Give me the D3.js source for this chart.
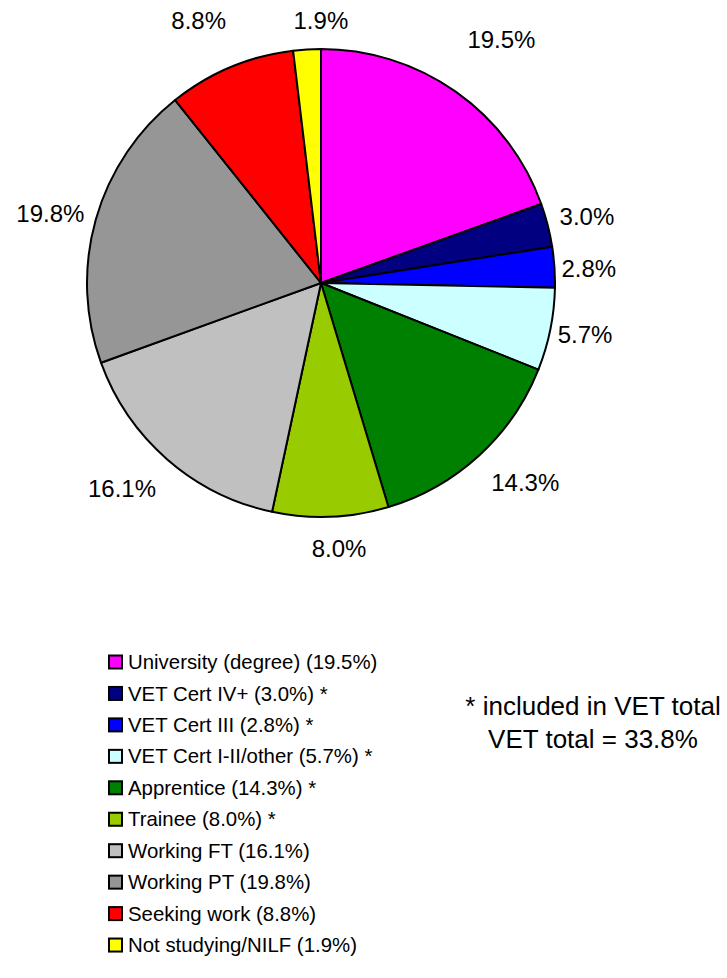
<!DOCTYPE html>
<html><head><meta charset="utf-8">
<script src="https://cdn.jsdelivr.net/npm/d3@7"></script>
<style>
body{margin:0;background:#fff}
svg text{font-family:Arial,"Liberation Sans",sans-serif;fill:#000}
</style></head>
<body><svg id="chart" width="727" height="978"></svg>
<script>
// ---- data ----
const categories = ["University (degree)","VET Cert IV+","VET Cert III","VET Cert I-II/other","Apprentice","Trainee","Working FT","Working PT","Seeking work","Not studying/NILF"];
const values = [19.5, 3.0, 2.8, 5.7, 14.3, 8.0, 16.1, 19.8, 8.8, 1.9];
const inVET = [false, true, true, true, true, true, false, false, false, false];
const colors = ["#FF00FF","#000080","#0000FF","#CCFFFF","#008000","#99CC00","#C0C0C0","#969696","#FF0000","#FFFF00"];
const noteLines = ["* included in VET total", "VET total = "];

// ---- layout ----
const labelNudge = [[21,-33],[4,-3],[-2,3],[-1,1],[17,10],[7,8],[-17,12],[-4,1],[-18,-25],[16,-5]];
const cx = 321, cy = 283, R = 234;

const svg = d3.select("#chart");
const data = categories.map((c,i)=>({cat:c, value:values[i], vet:inVET[i], color:colors[i], i}));
const pie = d3.pie().value(d=>d.value).sort(null);
const arcs = pie(data);
const arc = d3.arc().innerRadius(0).outerRadius(R);

const g = svg.append("g").attr("transform",`translate(${cx},${cy})`);
g.selectAll("path").data(arcs).join("path")
  .attr("d", arc)
  .attr("fill", d=>d.data.color)
  .attr("stroke","#000").attr("stroke-width",2).attr("stroke-linejoin","round");

// labels
const fs = 24, boxH = 29, gap = 9;
arcs.forEach(a=>{
  const th = (a.startAngle + a.endAngle)/2;
  const s = Math.sin(th), c = Math.cos(th);
  const t = g.append("text").attr("font-size",fs).attr("text-anchor","middle")
    .attr("dy","0.35em").text(a.data.value.toFixed(1)+"%");
  const w = t.node().getComputedTextLength();
  const x = (R+gap)*s + s*w/2 + labelNudge[a.data.i][0];
  const y = -(R+gap)*c - c*boxH/2 + labelNudge[a.data.i][1];
  t.attr("x",x).attr("y",y);
});

// legend
const lx = 109, ly0 = 662, lstep = 31.45, sq = 13;
const yL = d3.scaleLinear().domain([0,1]).range([ly0, ly0+lstep]);
const leg = svg.append("g");
data.forEach((d,i)=>{
  const y = yL(i);
  leg.append("rect").attr("x",lx).attr("y",y-sq/2).attr("width",sq).attr("height",sq)
    .attr("fill",d.color).attr("stroke","#000").attr("stroke-width",2);
  leg.append("text").attr("x",lx+19).attr("y",y).attr("dy","0.35em")
    .attr("font-size",20.4)
    .text(`${d.cat} (${d.value.toFixed(1)}%)` + (d.vet ? " *" : ""));
});

// note
const vetTotal = d3.sum(data.filter(d=>d.vet), d=>d.value);
const note = svg.append("g").attr("transform","translate(593,0)");
note.append("text").attr("x",0).attr("y",706).attr("dy","0.35em").attr("text-anchor","middle")
  .attr("font-size",26).text(noteLines[0]);
note.append("text").attr("x",0).attr("y",739).attr("dy","0.35em").attr("text-anchor","middle")
  .attr("font-size",26).text(noteLines[1] + vetTotal.toFixed(1) + "%");
</script></body></html>
